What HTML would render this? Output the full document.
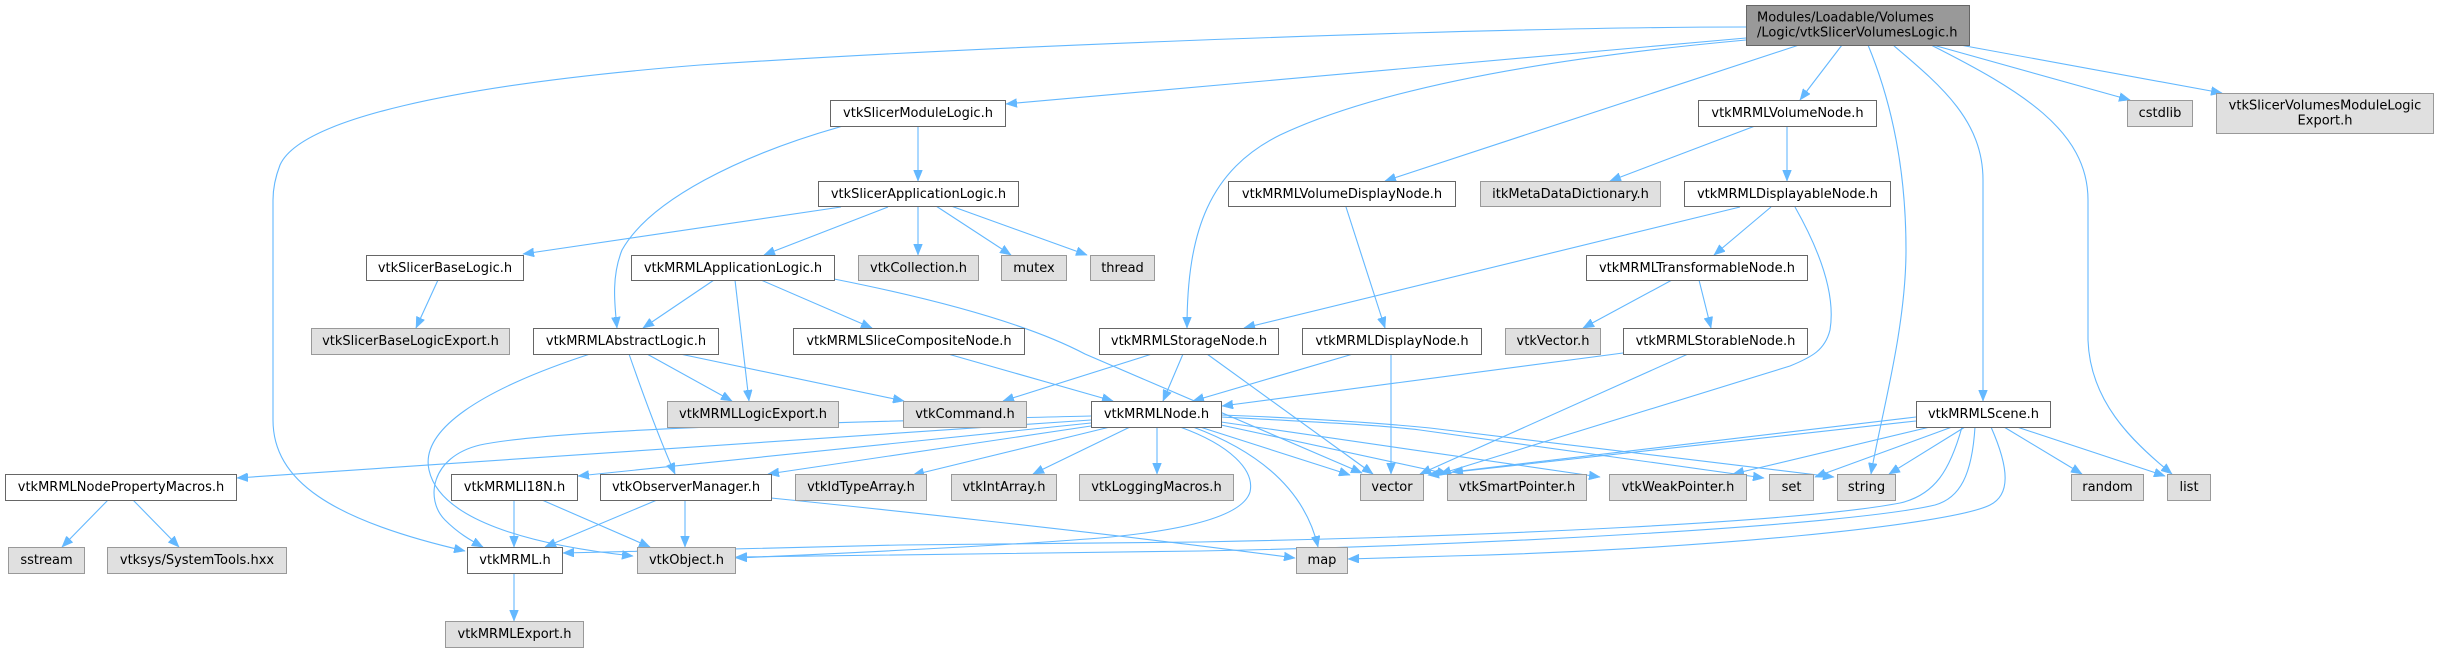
<!DOCTYPE html>
<html><head><meta charset="utf-8"><style>
html,body{margin:0;padding:0;background:#fff;}
svg{display:block;}
text{font-family:"DejaVu Sans","Liberation Sans",sans-serif;font-size:13px;fill:#000;}
.w{fill:#fff;stroke:#666;stroke-width:1;}
.g{fill:#e0e0e0;stroke:#999;stroke-width:1;}
.r{fill:#999;stroke:#666;stroke-width:1;}
.e{fill:none;stroke:#63b8ff;stroke-width:1.1;marker-end:url(#a);}
</style></head><body>
<svg width="2439" height="652" viewBox="0 0 2439 652" xmlns="http://www.w3.org/2000/svg">
<defs>
<marker id="a" markerUnits="userSpaceOnUse" markerWidth="12" markerHeight="9" refX="11" refY="4.5" orient="auto">
<path d="M0,0 L11,4.5 L0,9 z" fill="#63b8ff" stroke="#63b8ff" stroke-width="0.5"/>
</marker>
</defs>
<rect width="2439" height="652" fill="#fff"/>
<g>
<!-- root edges -->
<path class="e" d="M1746,38 L1006,104"/>
<path class="e" d="M1746,27 C1500,27 1000,45 700,65 C450,85 300,120 280,165 C275,178 273,188 273,200 L273,420 C273,480 330,520 465,551"/>
<path class="e" d="M1746,40 C1550,58 1380,88 1280,135 C1210,170 1187,230 1187,328"/>
<path class="e" d="M1799,45 L1385,181"/>
<path class="e" d="M1842,45 L1800,100"/>
<path class="e" d="M1868,45 C1895,110 1906,180 1906,250 C1906,330 1880,420 1871,474"/>
<path class="e" d="M1893,45 C1940,85 1983,120 1983,180 L1983,401"/>
<path class="e" d="M1931,45 C2020,90 2088,130 2088,200 L2088,340 C2090,400 2130,440 2172,474"/>
<path class="e" d="M1933,45 L2130,100"/>
<path class="e" d="M1960,45 L2222,93"/>
<!-- module logic -->
<path class="e" d="M918,126 L918,181"/>
<path class="e" d="M843,126 C740,155 650,200 622,250 C612,275 614,300 617,328"/>
<!-- slicer application logic -->
<path class="e" d="M841,207 L523,254"/>
<path class="e" d="M888,207 L764,255"/>
<path class="e" d="M918,206 L918,255"/>
<path class="e" d="M936,206 L1011,255"/>
<path class="e" d="M951,206 L1087,255"/>
<!-- slicer base logic -->
<path class="e" d="M438,280 L416,328"/>
<!-- mrml application logic -->
<path class="e" d="M714,280 L643,328"/>
<path class="e" d="M735,280 L749,401"/>
<path class="e" d="M761,280 L872,328"/>
<path class="e" d="M834,279 C940,300 1030,325 1085,354 L1362,473"/>
<!-- abstract logic -->
<path class="e" d="M647,354 L732,401"/>
<path class="e" d="M680,354 L904,401"/>
<path class="e" d="M629,354 C645,400 660,440 675,474"/>
<path class="e" d="M590,354 C480,390 420,430 429,470 C440,520 530,545 633,556"/>
<!-- slice composite -->
<path class="e" d="M948,354 L1113,401"/>
<!-- storage node -->
<path class="e" d="M1152,354 L1003,401"/>
<path class="e" d="M1183,354 L1163,401"/>
<path class="e" d="M1207,354 L1373,474"/>
<!-- display node -->
<path class="e" d="M1353,354 L1193,401"/>
<path class="e" d="M1391,354 L1391,474"/>
<!-- storable -->
<path class="e" d="M1623,353 L1222,406"/>
<path class="e" d="M1688,354 L1420,474"/>
<!-- transformable -->
<path class="e" d="M1699,280 L1711,328"/>
<path class="e" d="M1672,280 L1583,328"/>
<!-- displayable -->
<path class="e" d="M1771,207 L1714,255"/>
<path class="e" d="M1740,207 L1244,328"/>
<path class="e" d="M1795,207 C1825,260 1835,300 1830,330 C1825,350 1812,357 1790,366 L1440,474"/>
<!-- volume node -->
<path class="e" d="M1755,126 L1610,181"/>
<path class="e" d="M1787,126 L1787,181"/>
<!-- volume display node -->
<path class="e" d="M1346,207 L1385,328"/>
<!-- mrml node -->
<path class="e" d="M1091,420 L237,478"/>
<path class="e" d="M1091,423 L578,476"/>
<path class="e" d="M1091,426 L768,474"/>
<path class="e" d="M1110,427 L913,475"/>
<path class="e" d="M1130,427 L1033,474"/>
<path class="e" d="M1157,427 L1157,474"/>
<path class="e" d="M1091,416 C850,422 560,428 480,445 C430,457 425,500 445,520 C458,533 470,540 483,547"/>
<path class="e" d="M1180,427 C1230,445 1255,470 1250,492 C1243,515 1190,530 1100,538 C1000,546 850,553 736,558"/>
<path class="e" d="M1193,427 C1260,452 1305,490 1318,547"/>
<path class="e" d="M1200,427 L1350,475"/>
<path class="e" d="M1221,425 L1448,474"/>
<path class="e" d="M1221,422 L1600,477"/>
<path class="e" d="M1221,417 C1300,421 1380,425 1420,430 L1764,478"/>
<path class="e" d="M1221,415 C1300,418 1380,423 1430,428 L1834,477"/>
<!-- scene -->
<path class="e" d="M1916,421 L1428,475"/>
<path class="e" d="M1916,417 L1452,472"/>
<path class="e" d="M1930,427 L1733,474"/>
<path class="e" d="M1952,427 L1815,477"/>
<path class="e" d="M1965,427 L1889,474"/>
<path class="e" d="M2004,427 L2082,474"/>
<path class="e" d="M2017,427 L2165,476"/>
<path class="e" d="M1962,427 C1950,470 1935,495 1900,503 C1800,522 1500,536 1200,542 L900,545 C750,548 620,551 563,553"/>
<path class="e" d="M1975,427 C1972,475 1960,498 1935,505 C1850,525 1500,545 1200,551 L736,557"/>
<path class="e" d="M1991,427 C2010,470 2010,495 1990,505 C1950,525 1700,550 1450,556 L1348,559"/>
<!-- observer manager -->
<path class="e" d="M657,500 L545,547"/>
<path class="e" d="M685,500 L685,547"/>
<path class="e" d="M771,498 C850,506 1100,532 1295,558"/>
<!-- i18n -->
<path class="e" d="M514,500 L514,547"/>
<path class="e" d="M542,500 L650,547"/>
<!-- node property macros -->
<path class="e" d="M108,500 L62,547"/>
<path class="e" d="M133,500 L179,547"/>
<!-- vtkMRML.h -->
<path class="e" d="M514,573 L514,621"/>
</g>

<!-- nodes -->
<rect class="r" x="1746.5" y="5.5" width="223" height="40"/>
<text x="1757" y="21.7">Modules/Loadable/Volumes</text>
<text x="1757" y="36.3">/Logic/vtkSlicerVolumesLogic.h</text>

<g text-anchor="middle">
<rect class="w" x="830.5" y="100.5" width="175" height="26"/><text x="918" y="117">vtkSlicerModuleLogic.h</text>
<rect class="w" x="1698.5" y="100.5" width="178" height="26"/><text x="1787.5" y="117">vtkMRMLVolumeNode.h</text>
<rect class="g" x="2127.5" y="100.5" width="65" height="26"/><text x="2160" y="117">cstdlib</text>
<rect class="g" x="2216.5" y="93.5" width="217" height="40"/><text x="2325" y="109.7">vtkSlicerVolumesModuleLogic</text><text x="2325" y="124.3">Export.h</text>

<rect class="w" x="818.5" y="181.5" width="200" height="25"/><text x="918.5" y="198">vtkSlicerApplicationLogic.h</text>
<rect class="w" x="1228.5" y="181.5" width="227" height="25"/><text x="1342" y="198">vtkMRMLVolumeDisplayNode.h</text>
<rect class="g" x="1480.5" y="181.5" width="180" height="25"/><text x="1570.5" y="198">itkMetaDataDictionary.h</text>
<rect class="w" x="1684.5" y="181.5" width="206" height="25"/><text x="1787.5" y="198">vtkMRMLDisplayableNode.h</text>

<rect class="w" x="366.5" y="255.5" width="157" height="25"/><text x="445" y="272">vtkSlicerBaseLogic.h</text>
<rect class="w" x="631.5" y="255.5" width="203" height="25"/><text x="733" y="272">vtkMRMLApplicationLogic.h</text>
<rect class="g" x="858.5" y="255.5" width="120" height="25"/><text x="918.5" y="272">vtkCollection.h</text>
<rect class="g" x="1001.5" y="255.5" width="65" height="25"/><text x="1034" y="272">mutex</text>
<rect class="g" x="1090.5" y="255.5" width="64" height="25"/><text x="1122.5" y="272">thread</text>
<rect class="w" x="1586.5" y="255.5" width="221" height="25"/><text x="1697" y="272">vtkMRMLTransformableNode.h</text>

<rect class="g" x="311.5" y="328.5" width="198" height="26"/><text x="410.5" y="345">vtkSlicerBaseLogicExport.h</text>
<rect class="w" x="533.5" y="328.5" width="185" height="26"/><text x="626" y="345">vtkMRMLAbstractLogic.h</text>
<rect class="w" x="793.5" y="328.5" width="231" height="26"/><text x="909" y="345">vtkMRMLSliceCompositeNode.h</text>
<rect class="w" x="1099.5" y="328.5" width="179" height="26"/><text x="1189" y="345">vtkMRMLStorageNode.h</text>
<rect class="w" x="1302.5" y="328.5" width="179" height="26"/><text x="1392" y="345">vtkMRMLDisplayNode.h</text>
<rect class="g" x="1505.5" y="328.5" width="95" height="26"/><text x="1553" y="345">vtkVector.h</text>
<rect class="w" x="1623.5" y="328.5" width="184" height="26"/><text x="1715.5" y="345">vtkMRMLStorableNode.h</text>

<rect class="g" x="667.5" y="401.5" width="171" height="26"/><text x="753" y="418">vtkMRMLLogicExport.h</text>
<rect class="g" x="903.5" y="401.5" width="123" height="26"/><text x="965" y="418">vtkCommand.h</text>
<rect class="w" x="1091.5" y="401.5" width="130" height="26"/><text x="1156.5" y="418">vtkMRMLNode.h</text>
<rect class="w" x="1916.5" y="401.5" width="134" height="26"/><text x="1983.5" y="418">vtkMRMLScene.h</text>

<rect class="w" x="5.5" y="474.5" width="231" height="26"/><text x="121" y="491">vtkMRMLNodePropertyMacros.h</text>
<rect class="w" x="451.5" y="474.5" width="126" height="26"/><text x="514.5" y="491">vtkMRMLI18N.h</text>
<rect class="w" x="600.5" y="474.5" width="171" height="26"/><text x="686" y="491">vtkObserverManager.h</text>
<rect class="g" x="795.5" y="474.5" width="131" height="26"/><text x="861" y="491">vtkIdTypeArray.h</text>
<rect class="g" x="951.5" y="474.5" width="105" height="26"/><text x="1004" y="491">vtkIntArray.h</text>
<rect class="g" x="1079.5" y="474.5" width="154" height="26"/><text x="1156.5" y="491">vtkLoggingMacros.h</text>
<rect class="g" x="1360.5" y="474.5" width="63" height="26"/><text x="1392" y="491">vector</text>
<rect class="g" x="1447.5" y="474.5" width="139" height="26"/><text x="1517" y="491">vtkSmartPointer.h</text>
<rect class="g" x="1609.5" y="474.5" width="137" height="26"/><text x="1678" y="491">vtkWeakPointer.h</text>
<rect class="g" x="1769.5" y="474.5" width="44" height="26"/><text x="1791.5" y="491">set</text>
<rect class="g" x="1837.5" y="474.5" width="58" height="26"/><text x="1866.5" y="491">string</text>
<rect class="g" x="2071.5" y="474.5" width="72" height="26"/><text x="2107.5" y="491">random</text>
<rect class="g" x="2167.5" y="474.5" width="43" height="26"/><text x="2189" y="491">list</text>

<rect class="g" x="8.5" y="547.5" width="76" height="26"/><text x="46.5" y="564">sstream</text>
<rect class="g" x="107.5" y="547.5" width="179" height="26"/><text x="197" y="564">vtksys/SystemTools.hxx</text>
<rect class="w" x="467.5" y="547.5" width="95" height="26"/><text x="515" y="564">vtkMRML.h</text>
<rect class="g" x="637.5" y="547.5" width="98" height="26"/><text x="686.5" y="564">vtkObject.h</text>
<rect class="g" x="1296.5" y="547.5" width="51" height="26"/><text x="1322" y="564">map</text>

<rect class="g" x="445.5" y="621.5" width="138" height="26"/><text x="514.5" y="638">vtkMRMLExport.h</text>
</g>
</svg>
</body></html>
